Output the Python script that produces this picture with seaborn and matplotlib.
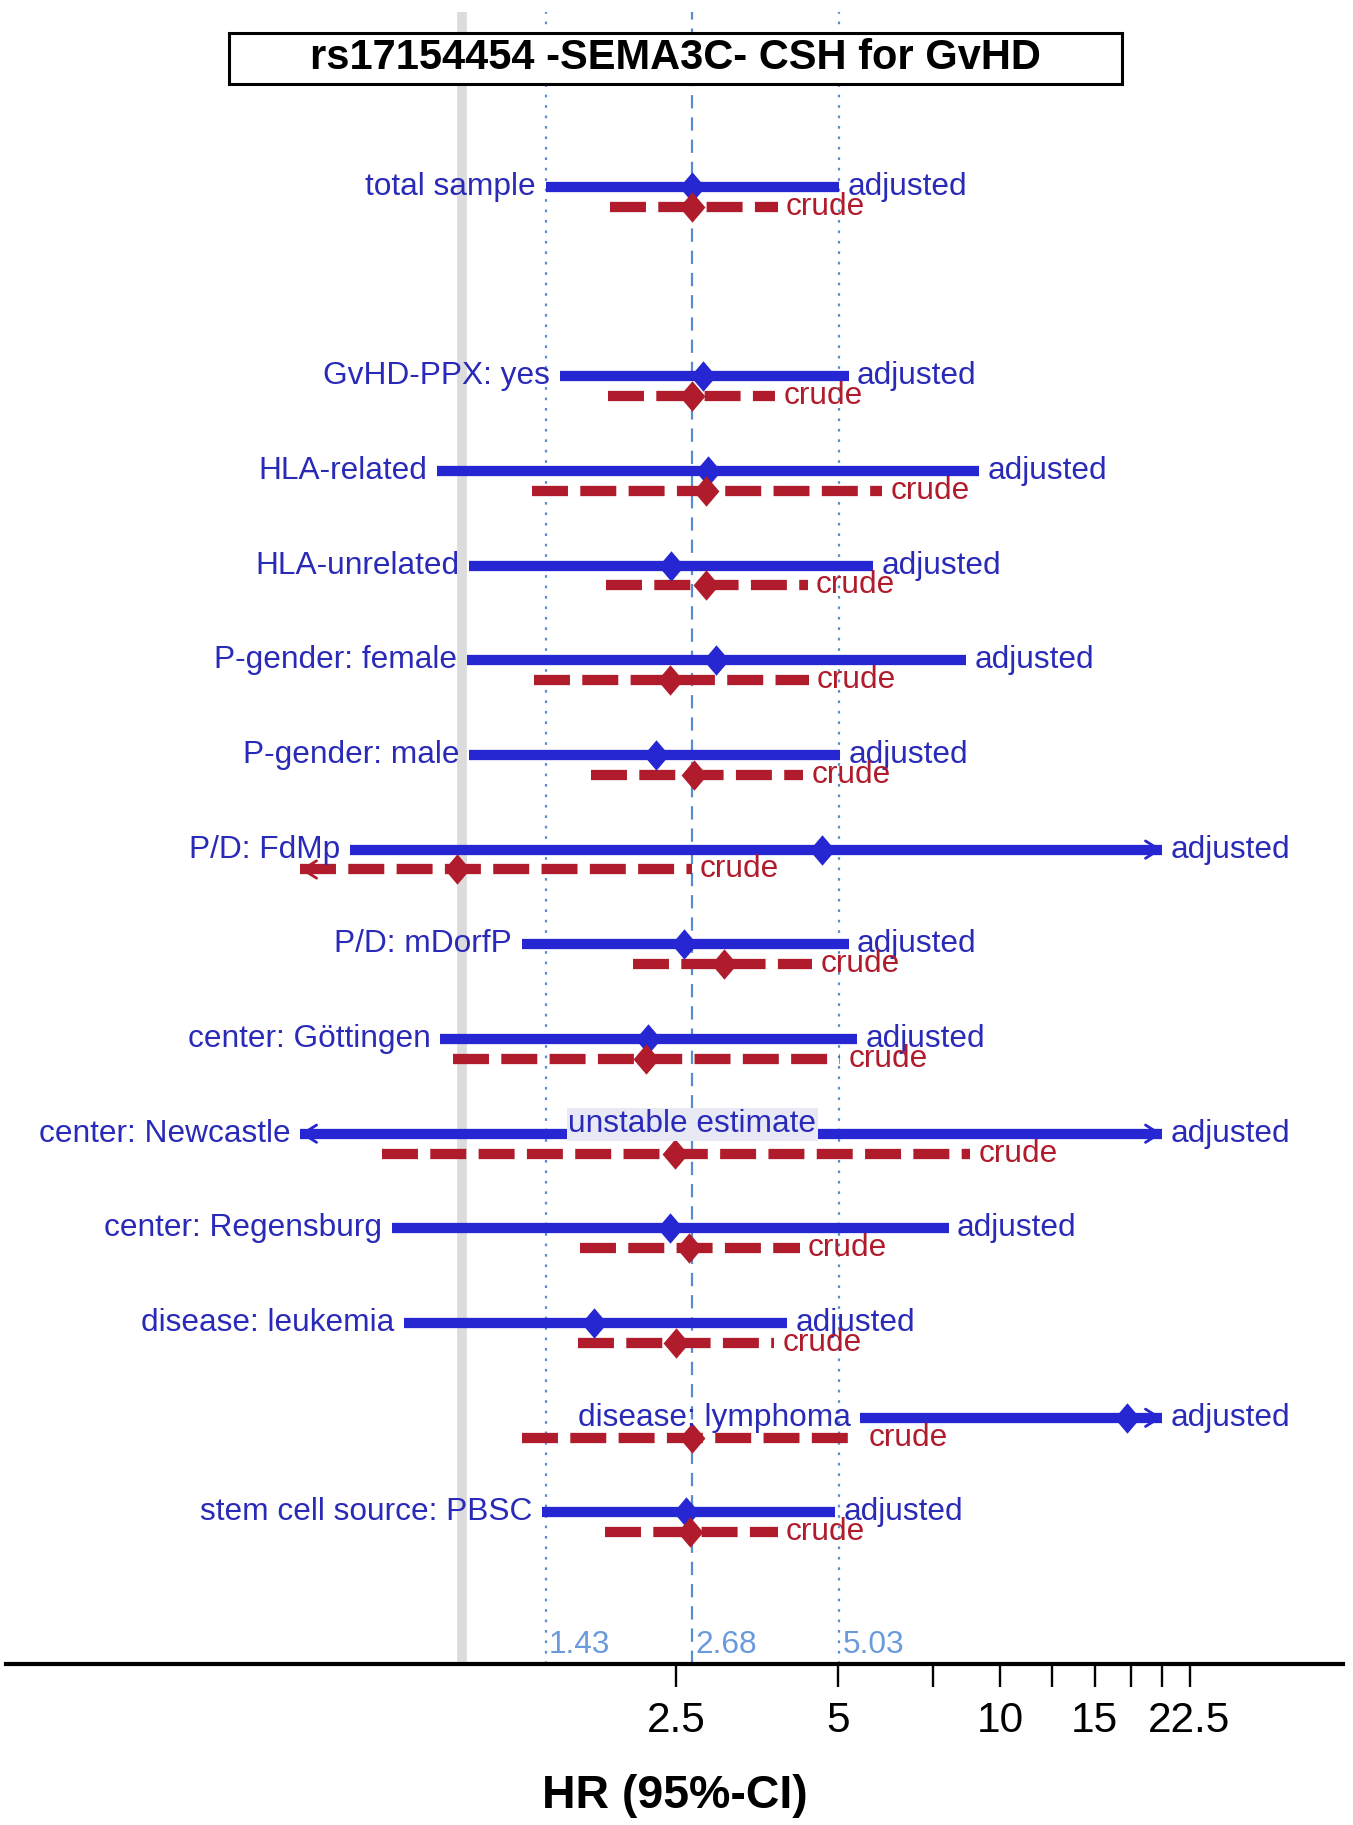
import numpy as np
import pandas as pd
import matplotlib
matplotlib.use("Agg")
import matplotlib.pyplot as plt
import seaborn as sns
from matplotlib.patches import Rectangle

# ---------------- data ----------------
labels = ["total sample", "GvHD-PPX: yes", "HLA-related", "HLA-unrelated",
          "P-gender: female", "P-gender: male", "P/D: FdMp", "P/D: mDorfP",
          "center: Göttingen", "center: Newcastle", "center: Regensburg",
          "disease: leukemia", "disease: lymphoma", "stem cell source: PBSC"]
row_pos = [0, 2, 3, 4, 5, 6, 7, 8, 9, 10, 11, 12, 13, 14]

adj_hr = [2.68, 2.80, 2.87, 2.45, 2.96, 2.29, 4.66, 2.59, 2.22, np.nan, 2.43, 1.76, 17.2, 2.61]
adj_lo = [1.43, 1.52, 0.90, 1.03, 1.02, 1.03, 0.62, 1.29, 0.91, 0.30, 0.74, 0.78, 5.50, 1.41]
adj_hi = [5.03, 5.23, 9.14, 5.81, 8.66, 5.05, 30.0, 5.23, 5.42, 40.0, 8.03, 4.02, 25.0, 4.93]
adj_unstable = [False] * 9 + [True] + [False] * 4

crude_hr = [2.68, 2.68, 2.84, 2.84, 2.44, 2.70, 0.98, 3.07, 2.20, 2.49, 2.64, 2.50, 2.67, 2.65]
crude_lo = [1.88, 1.87, 1.35, 1.85, 1.36, 1.74, 0.40, 2.08, 0.96, 0.71, 1.66, 1.64, 1.29, 1.84]
crude_hi = [3.86, 3.82, 6.04, 4.39, 4.41, 4.31, 2.67, 4.48, 5.05, 8.79, 4.24, 3.80, 5.50, 3.86]

clip_lo, clip_hi = 0.5, 20.0
ref_values = [1.43, 2.68, 5.03]
null_value = 1.0
tick_values = [2.5, 5, 7.5, 10, 12.5, 15, 17.5, 20, 22.5]
tick_labels = ["2.5", "5", "", "10", "", "15", "", "", "22.5"]
title = "rs17154454 -SEMA3C- CSH for GvHD"
xlabel = "HR (95%-CI)"
unstable_text = "unstable estimate"
adj_name, crude_name = "adjusted", "crude"

# ---------------- style ----------------
BLUE = "#2626d2"
BLUE_TXT = "#2a2ab8"
RED = "#b01c2c"
REF = "#5a8dd0"
REF_TXT = "#6a9ade"
GRAY = "#dcdcdc"
CRUDE_OFF = 0.21
LW = 7.4
FS = 22.8

sns.set_theme(style="white")
plt.rcParams['font.family'] = ['Liberation Sans', 'DejaVu Sans']

fig = plt.figure(figsize=(13.53, 18.25), dpi=100)
ax = fig.add_axes([0.00443, 0.08822, 0.98818, 0.9052])
ax.set_xscale("log")


def segments(lo, hi, ypos, offset):
    recs = []
    for i, (l, h, p) in enumerate(zip(lo, hi, ypos)):
        recs.append(dict(seg=i, hr=max(l, clip_lo), y=p + offset))
        recs.append(dict(seg=i, hr=min(h, clip_hi), y=p + offset))
    return pd.DataFrame(recs)


adj_df = segments(adj_lo, adj_hi, row_pos, 0.0)
crude_df = segments(crude_lo, crude_hi, row_pos, CRUDE_OFF)

# background reference lines
ax.axvline(null_value, color=GRAY, lw=7, zorder=0.5)
for v in ref_values:
    ls = (0, (6, 4)) if v == ref_values[1] else (0, (1.2, 3.5))
    ax.axvline(v, color=REF, lw=1.6, ls=ls, zorder=1)

n0 = len(ax.lines)
sns.lineplot(data=adj_df, x="hr", y="y", units="seg", estimator=None, sort=False,
             color=BLUE, linewidth=LW, legend=False, ax=ax)
for ln in ax.lines[n0:]:
    ln.set_solid_capstyle("butt")
    ln.set_zorder(3)
n1 = len(ax.lines)
sns.lineplot(data=crude_df, x="hr", y="y", units="seg", estimator=None, sort=False,
             color=RED, linewidth=LW, legend=False, ax=ax)
for ln in ax.lines[n1:]:
    ln.set_dashes((3.5, 1.2))
    ln.set_dash_capstyle("butt")
    ln.set_zorder(3)

diamond = [(-0.85, 0), (0, 1), (0.85, 0), (0, -1), (-0.85, 0)]
adj_pts = pd.DataFrame(dict(hr=adj_hr, y=row_pos)).dropna()
crude_pts = pd.DataFrame(dict(hr=crude_hr, y=np.array(row_pos) + CRUDE_OFF))
sns.scatterplot(data=adj_pts, x="hr", y="y", marker=diamond, s=480, color=BLUE,
                linewidth=0, zorder=4, legend=False, ax=ax)
sns.scatterplot(data=crude_pts, x="hr", y="y", marker=diamond, s=480, color=RED,
                linewidth=0, zorder=4, legend=False, ax=ax)


def arrow(x, y, direction, color):
    ax.annotate("", xy=(x, y), xytext=(x * (0.97 if direction > 0 else 1.03), y),
                arrowprops=dict(arrowstyle="->,head_length=0.4,head_width=0.25",
                                lw=2, color=color, mutation_scale=25,
                                shrinkA=0, shrinkB=0), zorder=3)


for i, p in enumerate(row_pos):
    lo, hi = adj_lo[i], adj_hi[i]
    left = max(lo, clip_lo)
    right = min(hi, clip_hi)
    if lo < clip_lo:
        arrow(clip_lo, p, -1, BLUE)
    if hi > clip_hi:
        arrow(clip_hi, p, 1, BLUE)
    ax.annotate(labels[i], xy=(left, p), xytext=(-7, 0), textcoords="offset points",
                ha="right", va="center", fontsize=FS, color=BLUE_TXT, zorder=5)
    ax.annotate(adj_name, xy=(right, p), xytext=(6, 0), textcoords="offset points",
                ha="left", va="center", fontsize=FS, color=BLUE_TXT, zorder=5)
    if adj_unstable[i]:
        ax.text(ref_values[1], p - 0.1, unstable_text, ha="center", va="center",
                fontsize=FS, color=BLUE_TXT, zorder=5,
                bbox=dict(boxstyle="square,pad=0.05", fc="#e9e9f6", ec="none"))
    clo, chi = crude_lo[i], crude_hi[i]
    cy = p + CRUDE_OFF
    if clo < clip_lo:
        arrow(clip_lo, cy, -1, RED)
    if chi > clip_hi:
        arrow(clip_hi, cy, 1, RED)
    ax.annotate(crude_name, xy=(min(chi, clip_hi), cy), xytext=(6, 0),
                textcoords="offset points", ha="left", va="center",
                fontsize=FS, color=RED, zorder=5)

for v in ref_values:
    ax.annotate(f"{v:.2f}", xy=(v, 15.40), xytext=(2, 0), textcoords="offset points",
                ha="left", va="center", fontsize=FS, color=REF_TXT)

ax.set_xlim(0.142, 43.4)
ax.set_ylim(15.60, -1.845)
ax.set_xticks(tick_values)
ax.set_xticklabels(tick_labels)
ax.xaxis.set_minor_locator(matplotlib.ticker.NullLocator())
ax.set_yticks([])
ax.tick_params(axis="x", direction="out", length=16.5, width=1.7, pad=10,
               labelsize=30.5, colors="black", bottom=True)
for s in ["top", "left", "right"]:
    ax.spines[s].set_visible(False)
ax.spines["bottom"].set_linewidth(3)
ax.spines["bottom"].set_color("black")
ax.set_xlabel(xlabel, fontsize=33.5, fontweight="bold", color="black")
ax.xaxis.set_label_coords(0.5, -0.0799)
ax.xaxis.label.set_va("center")
ax.set_ylabel("")
ax.patch.set_alpha(0)

# title box
fig.patches.append(Rectangle((0.1690, 0.9540), 0.6606, 0.02810, transform=fig.transFigure,
                             fc="white", ec="black", lw=2.2, zorder=10))
fig.text(0.4993, 0.9682, title, ha="center", va="center", fontsize=30,
         fontweight="bold", color="black", zorder=11)

fig.savefig("out.png", dpi=100)
